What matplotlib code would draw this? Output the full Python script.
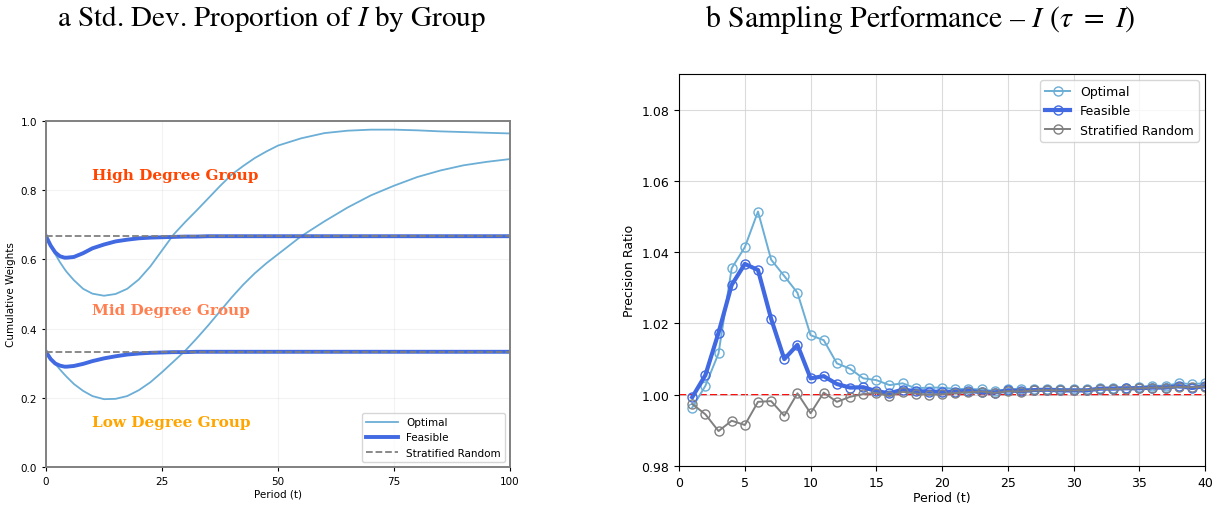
import numpy as np
import matplotlib
matplotlib.use('Agg')
import matplotlib.pyplot as plt

plt.rcParams['mathtext.fontset'] = 'stix'

# ---- panel a: cumulative group weights over time ----
t_w = [0, 1, 2, 3, 4, 4.5, 6, 8, 10, 12.5, 15, 17.5, 20, 22.5, 25, 27.5, 30, 32.5, 35,
       37.5, 40, 42.5, 45, 47.5, 50, 55, 60, 65, 70, 75, 80, 85, 90, 95, 100]
opt_upper = [0.667, 0.640, 0.615, 0.592, 0.572, 0.563, 0.540, 0.515, 0.501, 0.495, 0.500,
             0.515, 0.542, 0.580, 0.626, 0.672, 0.708, 0.742, 0.777, 0.812, 0.845, 0.870,
             0.893, 0.912, 0.929, 0.950, 0.965, 0.972, 0.975, 0.975, 0.973, 0.970, 0.968,
             0.966, 0.964]
opt_lower = [0.333, 0.315, 0.298, 0.282, 0.267, 0.260, 0.240, 0.220, 0.205, 0.196, 0.197,
             0.205, 0.222, 0.245, 0.274, 0.305, 0.336, 0.372, 0.410, 0.450, 0.490, 0.527,
             0.560, 0.589, 0.615, 0.667, 0.710, 0.750, 0.785, 0.813, 0.838, 0.857, 0.872,
             0.882, 0.890]
feas_upper = [0.667, 0.640, 0.620, 0.609, 0.605, 0.605, 0.607, 0.618, 0.632, 0.643, 0.652,
              0.657, 0.661, 0.663, 0.664, 0.665, 0.666, 0.666, 0.667, 0.667, 0.667, 0.667,
              0.667, 0.667, 0.667, 0.667, 0.667, 0.667, 0.667, 0.667, 0.667, 0.667, 0.667,
              0.667, 0.667]
feas_lower = [0.333, 0.312, 0.299, 0.293, 0.290, 0.290, 0.292, 0.298, 0.306, 0.314, 0.320,
              0.325, 0.328, 0.330, 0.331, 0.332, 0.332, 0.333, 0.333, 0.333, 0.333, 0.333,
              0.333, 0.333, 0.333, 0.333, 0.333, 0.333, 0.333, 0.333, 0.333, 0.333, 0.333,
              0.333, 0.333]
strat_levels = [1 / 3, 2 / 3]

group_labels = ['High Degree Group', 'Mid Degree Group', 'Low Degree Group']
group_label_y = [0.845, 0.455, 0.13]
group_colors = ['#FF4500', '#FF7F50', '#FFA500']

# ---- panel b: precision ratio per period ----
periods = list(range(1, 41))
ratio_opt = [0.9964, 1.0025, 1.0116, 1.0355, 1.0414, 1.0514, 1.0379, 1.0333, 1.0286, 1.0167,
             1.0153, 1.0088, 1.0073, 1.0046, 1.0041, 1.0027, 1.0032, 1.0018, 1.0020, 1.0020,
             1.0016, 1.0016, 1.0015, 1.0010, 1.0015, 1.0017, 1.0015, 1.0017, 1.0016, 1.0015,
             1.0015, 1.0018, 1.0020, 1.0020, 1.0022, 1.0025, 1.0025, 1.0032, 1.0030, 1.0032]
ratio_feas = [0.9993, 1.0055, 1.0174, 1.0308, 1.0367, 1.0350, 1.0213, 1.0100, 1.0140, 1.0046,
              1.0052, 1.0030, 1.0020, 1.0021, 1.0010, 1.0004, 1.0014, 1.0010, 1.0009, 1.0008,
              1.0008, 1.0011, 1.0007, 1.0006, 1.0012, 1.0010, 1.0013, 1.0014, 1.0012, 1.0012,
              1.0012, 1.0017, 1.0017, 1.0018, 1.0018, 1.0020, 1.0020, 1.0024, 1.0019, 1.0024]
ratio_strat = [0.9974, 0.9945, 0.9898, 0.9927, 0.9915, 0.9980, 0.9982, 0.9941, 1.0004, 0.9948,
               1.0006, 0.9980, 0.9994, 1.0002, 1.0005, 0.9996, 1.0008, 1.0003, 1.0000, 1.0001,
               1.0005, 1.0007, 1.0009, 1.0005, 1.0010, 1.0009, 1.0012, 1.0013, 1.0012, 1.0012,
               1.0013, 1.0016, 1.0016, 1.0017, 1.0018, 1.0020, 1.0020, 1.0022, 1.0021, 1.0023]

c_opt = '#6baed6'
c_feas = '#4169E1'
c_strat = 'gray'

fig = plt.figure(figsize=(12.17, 5.06), dpi=100)
ax1 = fig.add_axes([0.0378, 0.0751, 0.3813, 0.6838])
ax2 = fig.add_axes([0.558, 0.0771, 0.4322, 0.7747])

# panel a
ax1.plot(t_w, opt_upper, color=c_opt, lw=1.3, label='Optimal')
ax1.plot(t_w, opt_lower, color=c_opt, lw=1.3)
ax1.plot(t_w, feas_upper, color=c_feas, lw=2.8, label='Feasible')
ax1.plot(t_w, feas_lower, color=c_feas, lw=2.8)
for i, lvl in enumerate(strat_levels):
    ax1.plot([0, 100], [lvl, lvl], color='gray', lw=1.3, ls='--',
             label='Stratified Random' if i == 0 else None)
for lab, ly, lc in zip(group_labels, group_label_y, group_colors):
    ax1.text(10, ly, lab, color=lc, fontsize=11, fontweight='bold',
             family='DejaVu Serif', va='center', ha='left')
ax1.set_xlim(0, 100)
ax1.set_ylim(0, 1)
ax1.set_xticks([0, 25, 50, 75, 100])
ax1.set_yticks([0, 0.2, 0.4, 0.6, 0.8, 1.0])
ax1.tick_params(labelsize=7.5, length=3)
ax1.set_xlabel('Period (t)', fontsize=7.5, labelpad=2)
ax1.set_ylabel('Cumulative Weights', fontsize=7.5, labelpad=3)
ax1.grid(True, alpha=0.15)
for sp in ax1.spines.values():
    sp.set_color('gray')
    sp.set_linewidth(1.4)
ax1.legend(loc='lower right', fontsize=7.5, handlelength=3)

# panel b
ax2.axhline(1.0, color='red', ls='--', lw=1.4, zorder=1)
ax2.plot(periods, ratio_opt, color=c_opt, lw=1.4, marker='o', mfc='none', ms=6.5,
         mew=1.0, label='Optimal')
ax2.plot(periods, ratio_feas, color=c_feas, lw=3, marker='o', mfc='none', ms=6.5,
         mew=1.0, label='Feasible')
ax2.plot(periods, ratio_strat, color=c_strat, lw=1.4, marker='o', mfc='none', ms=6.5,
         mew=1.0, label='Stratified Random')
ax2.set_xlim(0, 40)
ax2.set_ylim(0.98, 1.09)
ax2.set_xticks(range(0, 41, 5))
ax2.set_yticks([0.98, 1.00, 1.02, 1.04, 1.06, 1.08])
ax2.tick_params(labelsize=9)
ax2.set_xlabel('Period (t)', fontsize=9, labelpad=2)
ax2.set_ylabel('Precision Ratio', fontsize=9)
ax2.grid(True, color='lightgray', alpha=0.8)
ax2.legend(loc='upper right', fontsize=9)

fig.text(0.223, 0.962, r'a Std. Dev. Proportion of $I$ by Group', family='STIXGeneral',
         fontsize=21, ha='center', va='center')
fig.text(0.756, 0.962, r'b Sampling Performance – $I$ ($\tau\ =\ I$)', family='STIXGeneral',
         fontsize=21.5, ha='center', va='center')

fig.savefig('out.png', dpi=100)
